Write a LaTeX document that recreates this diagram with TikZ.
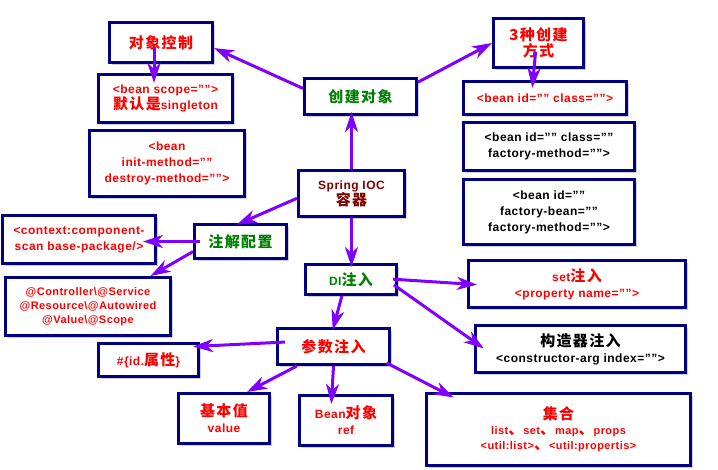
\documentclass[tikz,border=0pt]{standalone}
\usepackage{fontspec}
\setmainfont{Liberation Sans}[LetterSpace=4]
\newfontfamily\cjk{Noto Sans CJK SC}[LetterSpace=9]
\usepackage{tikz}
\usepackage{xcolor}
\usetikzlibrary{arrows.meta, shadows}
\definecolor{boxline}{HTML}{000080}
\definecolor{arrowcol}{HTML}{8000FF}
\definecolor{txtred}{HTML}{FF0000}
\definecolor{txtgreen}{HTML}{008000}
\definecolor{txtdark}{HTML}{800000}
\newcommand{\zh}[1]{{\cjk\fontsize{15}{16}\selectfont #1}}

\begin{document}
\begin{tikzpicture}[x=1pt, y=-1pt,
        box/.style={draw=boxline, line width=3pt, fill=white, align=center, inner sep=2pt,
            font=\bfseries\fontsize{12}{16}\selectfont,
            drop shadow={shadow xshift=2.5pt, shadow yshift=-2.5pt, fill=black!45, opacity=0.4}},
        arr/.style={draw=arrowcol, line width=3pt, -{Stealth[length=20pt, width=13pt, inset=6pt]}}]
        \useasboundingbox[fill=white] (0,0) rectangle (718,469);

        \node[box, text=txtred, minimum width=103pt, minimum height=40pt] (ctrl) at (161,42.5) {\zh{对象控制}};
        \node[box, text=txtred, minimum width=134pt, minimum height=48pt] (scope) at (165.5,98.5) {<bean scope="">\\\zh{默认是}singleton};
        \node[box, text=txtred, minimum width=155pt, minimum height=66pt] (initm) at (167,163.5) {<bean\\init-method=""\\destroy-method="">};
        \node[box, text=txtgreen, minimum width=112pt, minimum height=36pt] (create) at (360.5,96.5) {\zh{创建对象}};
        \node[box, text=txtdark, minimum width=106pt, minimum height=46pt] (ioc) at (351.5,193.5) {Spring IOC\\\zh{容器}};
        \node[box, text=txtred, minimum width=90pt, minimum height=49pt] (three) at (538.5,43) {\zh{3种创建}\\\zh{方式}};
        \node[box, text=txtred, minimum width=163pt, minimum height=33pt] (bclass) at (545,98) {<bean id="" class="">};
        \node[box, text=black, minimum width=171pt, minimum height=48pt] (fmethod) at (549,146.5) {<bean id="" class=""\\factory-method="">};
        \node[box, text=black, minimum width=171pt, minimum height=65pt] (fbean) at (549,212) {<bean id=""\\factory-bean=""\\factory-method="">};
        \node[box, text=txtred, minimum width=153pt, minimum height=48pt] (scan) at (79,239.5) {<context:component-\\scan base-package/>};
        \node[box, text=txtgreen, minimum width=92pt, minimum height=34pt] (anno) at (240.5,241.5) {\zh{注解配置}};
        \node[box, text=txtred, minimum width=165pt, minimum height=58pt, font=\bfseries\fontsize{11}{14}\selectfont] (annot) at (88,306.5)
            {@Controller\textbackslash@Service\\@Resource\textbackslash@Autowired\\@Value\textbackslash@Scope};
        \node[box, text=txtgreen, minimum width=91pt, minimum height=30pt] (di) at (351,279.5) {DI\zh{注入}};
        \node[box, text=txtred, minimum width=112pt, minimum height=36pt] (param) at (333.5,346.5) {\zh{参数注入}};
        \node[box, text=txtred, minimum width=100pt, minimum height=33pt] (spel) at (148.5,360) {\#\{id.\zh{属性}\}};
        \node[box, text=txtred, minimum width=217pt, minimum height=47pt] (setter) at (577,284) {set\zh{注入}\\<property name="">};
        \node[box, text=black, minimum width=210pt, minimum height=47pt] (ctor) at (580.5,349) {\zh{构造器注入}\\<constructor-arg index="">};
        \node[box, text=txtred, minimum width=91pt, minimum height=50pt] (basic) at (224,418.5) {\zh{基本值}\\value};
        \node[box, text=txtred, minimum width=93pt, minimum height=50pt] (ref) at (346,420.5) {Bean\zh{对象}\\ref};
        \node[box, text=txtred, minimum width=264pt, minimum height=72pt, font=\bfseries\fontsize{11}{15}\selectfont] (coll) at (558.5,429.5)
            {\zh{集合}\\list\zh{、}set\zh{、}map\zh{、}props\\<util:list>\zh{、}<util:propertis>};

        \draw[arr] (create.172) -- (ctrl.-6);
        \draw[arr, shorten <=-17pt, shorten >=-10pt] ([xshift=-7pt]ctrl.south) -- ([xshift=-11.5pt]scope.north);
        \draw[arr] (create.14) -- (three.west);
        \draw[arr, shorten <=-17pt, shorten >=-8pt] ([xshift=-4.5pt]three.south) -- ([xshift=-12pt]bclass.north);
        \draw[arr, shorten >=-4pt] (ioc.north) -- (ioc.north |- create.south);
        \draw[arr, shorten >=-4pt] (ioc.185) -- (anno.north);
        \draw[arr, shorten <=-7pt, shorten >=-14pt] (anno.west) -- (anno.west -| scan.east);
        \draw[arr] (anno.192) -- (annot.26);
        \draw[arr, shorten >=-4pt] (ioc.south) -- (ioc.south |- di.north);
        \draw[arr, shorten <=-5pt, shorten >=-10pt] (di.east) -- (setter.west);
        \draw[arr, shorten <=-5pt, shorten >=-12pt] (di.-10) -- (ctor.176);
        \draw[arr, shorten >=-3pt] (di.-119) -- (param.north);
        \draw[arr, shorten <=-9pt, shorten >=-7pt] (param.176) -- (spel.15);
        \draw[arr] (param.-152) -- (basic.49);
        \draw[arr, shorten >=-10pt] (param.south) -- (ref.118);
        \draw[arr, shorten <=-5pt, shorten >=-12pt] (param.-18) -- (coll.162);
    \end{tikzpicture}
\end{document}
